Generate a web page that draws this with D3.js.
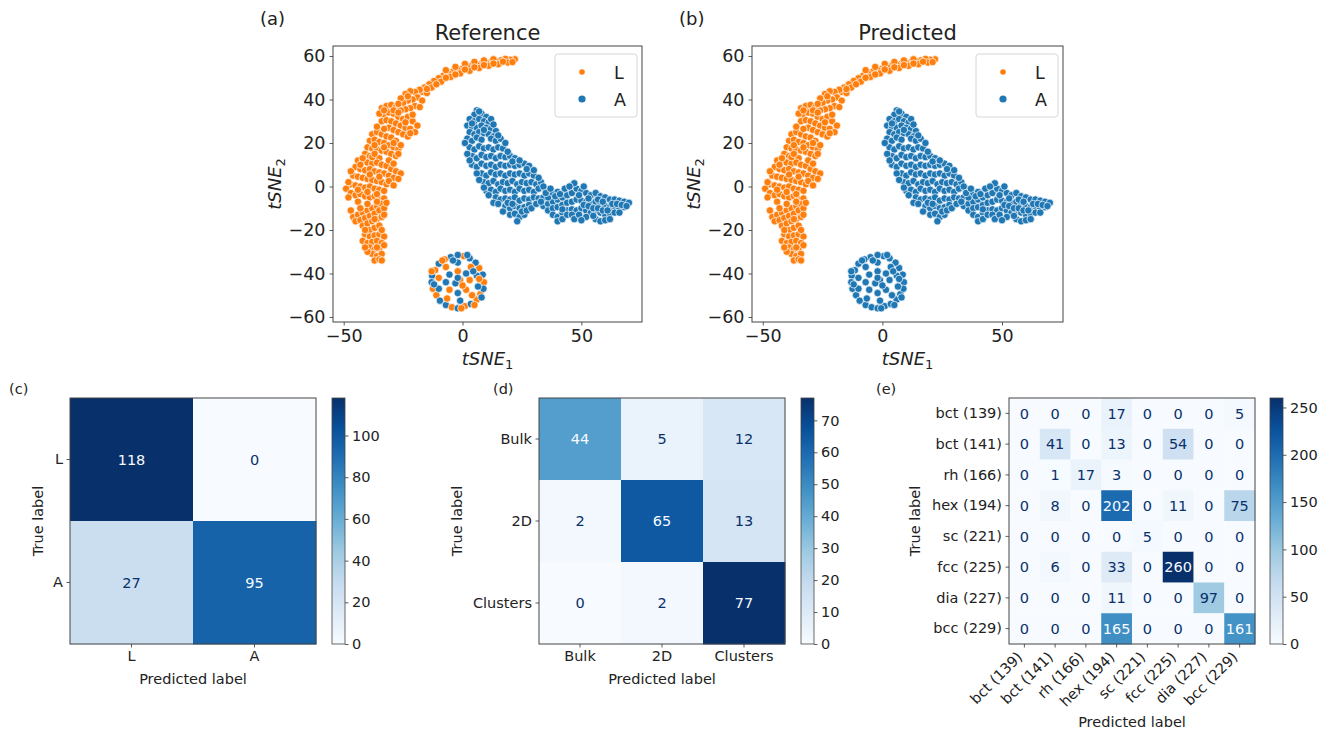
<!DOCTYPE html>
<html>
<head>
<meta charset="utf-8">
<script src="https://cdn.jsdelivr.net/npm/d3@7"></script>
<style>
body { margin: 0; background: #fff; }
svg { font-family: "DejaVu Sans", sans-serif; }
</style>
</head>
<body>
<svg id="fig" width="1323" height="731"></svg>
<script>
// ---- t-SNE embedding (data units) ----
// liquid-like points, orange arc
var lArc = [
  [22,58.5],[20,58.3],[18,58.7],[16,58],[14,57.6],[12,57.2],[10,56.8],[8,56.5],[6,56],[4,55.6],
  [2,55],[0,54.3],[-2,53.6],[-4,52.8],[-6,52],[-8,51],[-10,49.8],[-12,48.5],[-14,47],[-16,45.5],
  [19,57],[15,56.2],[11,55.5],[7,54.5],[3,53.2],[-1,52],[-5,50.4],[-9,48.2],[-13,45.5],[-17,43.5],
  [13,58.5],[9,58],[5,57.3],[1,56.4],[-3,55],[-7,53.5],
  [-18,44.5],[-20,43.5],[-22,43.8],[-24,42.5],[-19,41],[-21,40],[-23,39.5],[-25,38.5],[-17,39.5],
  [-15,43],[-26,40.5],[-20,37],[-22,36],[-24,35.5],[-18,36.5],
  [-34,36],[-32,37],[-30,37.5],[-28,36.5],[-26,35],[-33,33],[-31,34],[-29,33.5],[-27,32],[-25,31],
  [-23,32],[-21,30],[-34,30],[-32,30.5],[-30,30],[-28,29],[-26,28],[-24,27],[-22,26.5],[-20,25],
  [-31,27],[-29,26],[-27,25],[-25,24],[-23,23],[-35,33.5],[-21,33],
  [-38,24],[-36,25],[-34,24],[-32,23],[-30,22.5],[-28,21],[-39,21],[-37,21.5],[-35,20.5],[-33,20],
  [-31,19],[-29,18],[-27,17],[-40,18],[-38,17.5],[-36,17],[-34,16.5],[-32,16],[-30,15],[-28,14],
  [-41,15],[-39,14],[-26,19],[-35,13],
  [-44,12],[-42,11.5],[-40,11],[-38,10.5],[-36,11],[-34,10],[-32,9.5],[-30,8],[-28,7],[-26,6],
  [-45,9],[-43,8],[-41,7.5],[-39,8],[-37,7],[-35,6.5],[-33,6],[-31,5],[-29,4],[-27,3.5],
  [-46,5],[-44,4.5],[-42,4],[-40,3.5],[-38,3],[-36,2.5],[-34,2],[-32,1],[-47,1],[-45,0.5],
  [-43,0],[-41,-0.5],[-39,0],[-37,-1],[-35,-1.5],[-33,-2],[-49,-1],[-47,-3],[-45,-4],[-43,-3.5],
  [-41,-4.5],[-39,-5],[-37,-4.5],[-35,-6],[-33,-5.5],[-48,2],[-42,13],[-38,13.5],
  [-46,-14],[-44,-13],[-42,-12],[-40,-11],[-38,-10],[-36,-9],[-34,-8],[-45,-16],[-43,-15.5],[-41,-14.5],
  [-39,-13.5],[-37,-12.5],[-35,-11],[-33,-10],[-42,-18],[-40,-17],[-38,-16],[-36,-15],[-34,-14],
  [-39,-20],[-37,-19],[-35,-18],
  [-41,-22],[-39,-23],[-37,-22.5],[-35,-22],[-33,-23],[-42,-25],[-40,-26],[-38,-25.5],[-36,-25],
  [-34,-26],[-39,-28],[-37,-29],[-35,-28.5],[-33,-27],[-38,-31],[-36,-32],[-34,-31],[-37,-34],
  [-35,-33.5],[-40,-30],
  [21,57.2],[17,57.4],[13,56.5],[9,55.8],[5,54.8],[1,53.8],[-3,51.5],[-7,50],[-11,47],[-15,44.8],
  [-23,41.5],[-27,38],[-29,35],[-33,35],[-27,34],[-24,29.5],[-19,28],[-22,24.5],[-36,27.5],[-33,26.5],
  [-37,19],[-33,18],[-29,20],[-27,15],[-31,12],[-29,10.5],[-37,15],[-43,10],[-47,7],[-39,5.5],
  [-35,4.5],[-31,2.5],[-29,0.5],[-44,-1.5],[-40,-2.5],[-36,-3.5],[-48,-5],[-44,-7],[-40,-8],[-36,-7],
  [-32,-7.5],[-47,-11],[-43,-10],[-37,-15],[-33,-13],[-41,-20],[-34,-20],[-36,-28],[-41,-28],[-34,-34]
];
// amorphous-like points, blue band
var aMain = [
  [6,35],[5,33],[8,33.5],[10,32],[3,31],[5,30],[7,31],[9,30],[11,29.5],[12,31],[2,28],[4,27.5],
  [6,27],[8,28],[10,27],[12,26.5],[14,25.5],[3,25],[5,24],[7,25],[9,24.5],[11,24],[13,23],
  [2,22],[4,21],[6,22.5],[8,21.5],[12,22],[14,21],[16,22],[3,18],[5,17],[7,18.5],[9,17.5],[11,18],
  [13,17],[15,18],[17,17.5],[4,14],[6,13],[8,14.5],[10,13.5],[12,14],[14,13],[16,14],[18,13.5],
  [20,14],[22,13],[4,10],[6,9],[8,10.5],[10,9.5],[12,10],[14,9],[16,10],[18,9.5],[20,10],[22,9.5],
  [24,10],[26,10.5],[28,9.5],
  [8,6],[10,5],[12,6.5],[14,5.5],[16,6],[18,5],[20,6],[22,5.5],[24,6],[26,5],[28,6],[30,5],
  [9,2],[11,1.5],[13,2.5],[15,1],[17,2],[19,1.5],[21,2.5],[23,1],[25,2],[27,1.5],[29,2],[31,1],[33,2],
  [10,-2],[12,-1.5],[14,-2.5],[16,-1],[18,-2],[20,-1.5],[22,-2.5],[24,-1],[26,-2],[28,-1.5],[30,-2.5],[32,-1],
  [14,-5],[16,-6],[18,-5.5],[20,-6],[22,-5],[24,-6.5],[26,-5.5],[28,-6],[30,-5],[32,-5.5],[34,-5],
  [18,-9],[20,-10],[22,-9],[24,-10],[26,-9.5],[28,-8.5],[20,-13],[22,-12.5],[24,-14],[26,-13],[23,-16],
  [34,-9],[36,-8],[38,-7],[40,-6],[42,-5],[44,-4],[46,-3],[48,-1],[47,1.5],[50,-2],[52,-3],[54,-4],
  [56,-3],[58,-4.5],[60,-5],[62,-6],[64,-6],[66,-6.5],[68,-7],[70,-7.5],
  [36,-11],[38,-10],[40,-9.5],[42,-8.5],[44,-7.5],[46,-7],[48,-6],[50,-6.5],[52,-7],[54,-7.5],
  [56,-7],[58,-8],[60,-9],[62,-9.5],[64,-9],[66,-10],[68,-9.5],
  [38,-13],[40,-14],[42,-12],[44,-11],[46,-10.5],[48,-11],[50,-10],[52,-11],[54,-12],[56,-11],
  [58,-12],[60,-13],[62,-12.5],[64,-12],
  [40,-16],[42,-15],[52,-14],[56,-15],[58,-16],[60,-15.5],[36,-5],[38,-3],[40,-2.5],[43,-1],[45,0],[35,-1],
  [7,34.5],[4,29],[13,28.5],[9,26],[15,23.5],[18,20],[19,16],[1,20],[2,15],[3,12],[21,11.5],[24,12],
  [27,8],[30,7.5],[32,4],[34,0],[6,6],[7,3],[9,-0.5],[11,-4],[13,-7.5],[15,-8],[17,-11.5],[19,-7.5],
  [21,-8],[25,-11.5],[27,-11],[29,-10],[31,-8],[33,-7],[35,-3],[37,-1],[39,-4.5],[41,-3.5],[42,-10.5],
  [44,-13],[46,-13],[47,-15],[49,-13],[50,-15.5],[51,-8.5],[53,-9],[55,-10],[55,-13.5],[57,-10],
  [59,-11],[61,-11],[63,-8],[65,-8],[67,-8.5],[69,-9],[66,-12],[62,-15],[53,-5.5],[49,-4],[51,0],
  [57,-6],[59,-7]
];
// small round cluster near (−2, −44)
var ringPts = [
  [9,-44],[8.5,-40.5],[7,-37.5],[5.5,-35],[3,-33],[0.5,-32],[-2,-31.5],[-5,-32.5],[-7.5,-33.5],
  [-10,-35.5],[-11.5,-38.5],[-12.8,-41],[-13,-44],[-12.5,-47],[-11,-50],[-9.5,-52.5],[-7,-54.5],
  [-4.5,-55.5],[-2,-56],[1,-55],[3.5,-54],[6,-52],[7.5,-49.5],[8.8,-47],
  [6,-41],[3.5,-37],[-2,-35],[-7,-37],[-10,-42],[-10,-47],[-6.5,-51.5],[-1,-52.5],[4,-50],[6.5,-46],
  [3,-43],[1.5,-40],[-2,-39],[-5.5,-40.5],[-7,-44],[-5.5,-47.5],[-2,-49],[1.5,-47.5],
  [-1,-43],[-3,-44.5],[0,-45.5],[-2,-42],
  [2,-31.5],[-8.5,-34],[-12,-45],[-13,-39],[8,-51],[5,-54.5],[-0.5,-56],[-4,-34],[4.5,-39],[7,-42.5]
];
var ringTrue = "LALAALAALALAALLAALALALLA" + "ALALLALALA" + "LALAALAL" + "LALA" + "ALALALLAAL";
var ringPred = "AAAAAAAAAAAAAAAAAAAAAAAA" + "AAAAAAAAAA" + "AAAAAAAA" + "AAAA" + "AAAAAAAAAA";

var tsneX = [-54.5, 75.5];
var tsneY = [-62.3, 64.6];
var tsneXTicks = [-50, 0, 50];
var tsneYTicks = [-60, -40, -20, 0, 20, 40, 60];

// ---- confusion matrices ----
var cmLabelsC = ["L", "A"];
var cmC = [[118, 0], [27, 95]];
var cbTicksC = [0, 20, 40, 60, 80, 100];

var cmLabelsD = ["Bulk", "2D", "Clusters"];
var cmD = [[44, 5, 12], [2, 65, 13], [0, 2, 77]];
var cbTicksD = [0, 10, 20, 30, 40, 50, 60, 70];

var cmLabelsE = ["bct (139)", "bct (141)", "rh (166)", "hex (194)", "sc (221)", "fcc (225)", "dia (227)", "bcc (229)"];
var cmE = [
  [0, 0, 0, 17, 0, 0, 0, 5],
  [0, 41, 0, 13, 0, 54, 0, 0],
  [0, 1, 17, 3, 0, 0, 0, 0],
  [0, 8, 0, 202, 0, 11, 0, 75],
  [0, 0, 0, 0, 5, 0, 0, 0],
  [0, 6, 0, 33, 0, 260, 0, 0],
  [0, 0, 0, 11, 0, 0, 97, 0],
  [0, 0, 0, 165, 0, 0, 0, 161]
];
var cbTicksE = [0, 50, 100, 150, 200, 250];

var svg = d3.select("#fig");
var colL = "#ff7f0e", colA = "#1f77b4";
var bluesStops = ["#f7fbff", "#deebf7", "#c6dbef", "#9ecae1", "#6baed6", "#4292c6", "#2171b5", "#08519c", "#08306b"];
var blues = d3.scaleLinear()
  .domain(bluesStops.map(function(c, i){ return i / 8; }))
  .range(bluesStops)
  .interpolate(d3.interpolateRgb);
var minus = function(v){ return String(v).replace("-", "\u2212"); };

var styleAxis = function(g, size){
  g.select(".domain").remove();
  g.selectAll(".tick line").attr("stroke", "#333").attr("stroke-width", 0.8);
  g.selectAll(".tick text").attr("fill", "#222").attr("font-size", size)
    .attr("font-family", "DejaVu Sans, sans-serif");
  g.attr("font-family", null).attr("font-size", null);
}

//one t-SNE scatter panel
var scatterPanel = function(cfg){
  var x = d3.scaleLinear().domain(tsneX).range([cfg.left, cfg.right]);
  var y = d3.scaleLinear().domain(tsneY).range([cfg.bottom, cfg.top]);
  var pts = [];
  lArc.forEach(function(p){ pts.push({x: p[0], y: p[1], lab: "L"}); });
  aMain.forEach(function(p){ pts.push({x: p[0], y: p[1], lab: "A"}); });
  ringPts.forEach(function(p, i){ pts.push({x: p[0], y: p[1], lab: cfg.ring[i]}); });

  var g = svg.append("g");
  g.selectAll("circle").data(pts).enter().append("circle")
    .attr("cx", function(d){ return x(d.x); })
    .attr("cy", function(d){ return y(d.y); })
    .attr("r", 3.7)
    .attr("fill", function(d){ return d.lab == "L" ? colL : colA; })
    .attr("stroke", "#fff")
    .attr("stroke-width", 0.7);

  g.append("rect")
    .attr("x", cfg.left).attr("y", cfg.top)
    .attr("width", cfg.right - cfg.left).attr("height", cfg.bottom - cfg.top)
    .attr("fill", "none").attr("stroke", "#444").attr("stroke-width", 1);

  var ax = g.append("g").attr("transform", "translate(0," + cfg.bottom + ")")
    .call(d3.axisBottom(x).tickValues(tsneXTicks).tickSize(3.5).tickPadding(4).tickFormat(minus));
  styleAxis(ax, "17.5px");
  var ay = g.append("g").attr("transform", "translate(" + cfg.left + ",0)")
    .call(d3.axisLeft(y).tickValues(tsneYTicks).tickSize(3.5).tickPadding(4).tickFormat(minus));
  styleAxis(ay, "17.5px");

  var cx = (cfg.left + cfg.right) / 2;
  g.append("text").attr("x", cx).attr("y", 40).attr("text-anchor", "middle")
    .attr("font-size", "21px").attr("fill", "#222").text(cfg.title);
  g.append("text").attr("x", cfg.left - 73).attr("y", 25)
    .attr("font-size", "18px").attr("fill", "#222").text(cfg.tag);

  var xl = g.append("text").attr("x", cx).attr("y", 365).attr("text-anchor", "middle")
    .attr("font-size", "18px").attr("font-style", "italic").attr("fill", "#222");
  xl.append("tspan").text("tSNE");
  xl.append("tspan").attr("font-size", "13px").attr("dy", "4").attr("font-style", "normal").text("1");

  var yc = (cfg.top + cfg.bottom) / 2;
  var yl = g.append("text").attr("transform", "translate(" + (cfg.left - 52) + "," + yc + ") rotate(-90)")
    .attr("text-anchor", "middle")
    .attr("font-size", "18px").attr("font-style", "italic").attr("fill", "#222");
  yl.append("tspan").text("tSNE");
  yl.append("tspan").attr("font-size", "13px").attr("dy", "4").attr("font-style", "normal").text("2");

  // legend
  var lx = cfg.right - 87, ly = cfg.top + 8;
  g.append("rect").attr("x", lx).attr("y", ly).attr("width", 82).attr("height", 63)
    .attr("rx", 3).attr("fill", "#fff").attr("fill-opacity", 0.8)
    .attr("stroke", "#d6d6d6").attr("stroke-width", 1);
  var items = [{lab: "L", c: colL, r: 2.8}, {lab: "A", c: colA, r: 3.6}];
  var lg = g.selectAll(".leg").data(items).enter().append("g")
    .attr("transform", function(d, i){ return "translate(" + lx + "," + (ly + 18 + i * 27) + ")"; });
  lg.append("circle").attr("cx", 27).attr("cy", 0).attr("r", function(d){ return d.r; })
    .attr("fill", function(d){ return d.c; });
  lg.append("text").attr("x", 59).attr("y", 6.5).attr("font-size", "17.5px").attr("fill", "#222")
    .text(function(d){ return d.lab; });
}

//one confusion matrix with its colorbar
var cmPanel = function(cfg){
  var labels = cfg.labels;
  var band = d3.scaleBand().domain(labels).range([0, cfg.size]);
  var vmax = d3.max(cfg.m, function(r){ return d3.max(r); });
  var thresh = vmax / 2;
  var cells = [];
  cfg.m.forEach(function(row, i){
    row.forEach(function(v, j){ cells.push({i: i, j: j, v: v}); });
  });

  var g = svg.append("g").attr("transform", "translate(" + cfg.left + "," + cfg.top + ")");
  g.selectAll("rect.cell").data(cells).enter().append("rect")
    .attr("class", "cell")
    .attr("x", function(d){ return band(labels[d.j]); })
    .attr("y", function(d){ return band(labels[d.i]); })
    .attr("width", band.bandwidth() + 0.4).attr("height", band.bandwidth() + 0.4)
    .attr("fill", function(d){ return blues(d.v / vmax); });
  g.selectAll("text.val").data(cells).enter().append("text")
    .attr("class", "val")
    .attr("x", function(d){ return band(labels[d.j]) + band.bandwidth() / 2; })
    .attr("y", function(d){ return band(labels[d.i]) + band.bandwidth() / 2; })
    .attr("dy", "0.36em").attr("text-anchor", "middle").attr("font-size", "14.5px")
    .attr("fill", function(d){ return d.v < thresh ? "#08306b" : "#f7fbff"; })
    .text(function(d){ return d.v; });
  g.append("rect").attr("width", cfg.size).attr("height", cfg.size)
    .attr("fill", "none").attr("stroke", "#444").attr("stroke-width", 1);

  var ay = g.append("g").call(d3.axisLeft(band).tickSize(3.5).tickPadding(3.5));
  styleAxis(ay, "14.5px");
  var ax = g.append("g").attr("transform", "translate(0," + cfg.size + ")")
    .call(d3.axisBottom(band).tickSize(3.5).tickPadding(3.5));
  styleAxis(ax, "14.5px");
  if (cfg.rotate) {
    ax.selectAll(".tick text")
      .attr("y", 0).attr("dy", null)
      .attr("text-anchor", "end")
      .attr("transform", "translate(-1,14) rotate(-45)");
  }

  // colorbar
  var cb = g.append("g").attr("transform", "translate(" + cfg.cbx + ",0)");
  var gid = "grad" + cfg.tag.replace(/\W/g, "");
  var grad = svg.append("defs").append("linearGradient").attr("id", gid)
    .attr("x1", 0).attr("y1", 1).attr("x2", 0).attr("y2", 0);
  grad.selectAll("stop").data(bluesStops).enter().append("stop")
    .attr("offset", function(d, i){ return i / 8; })
    .attr("stop-color", function(d){ return d; });
  cb.append("rect").attr("width", 13).attr("height", cfg.size).attr("fill", "url(#" + gid + ")")
    .attr("stroke", "#444").attr("stroke-width", 0.8);
  var cbScale = d3.scaleLinear().domain([0, vmax]).range([cfg.size, 0]);
  var cba = cb.append("g").attr("transform", "translate(13,0)")
    .call(d3.axisRight(cbScale).tickValues(cfg.cbTicks).tickSize(3.5).tickPadding(3.5));
  styleAxis(cba, "14.5px");

  g.append("text").attr("x", cfg.size / 2).attr("y", cfg.xly).attr("text-anchor", "middle")
    .attr("font-size", "14.5px").attr("fill", "#222").text("Predicted label");
  g.append("text").attr("transform", "translate(" + cfg.ylx + "," + cfg.size / 2 + ") rotate(-90)")
    .attr("text-anchor", "middle").attr("dy", "0.36em")
    .attr("font-size", "14.5px").attr("fill", "#222").text("True label");
  g.append("text").attr("x", cfg.tagx).attr("y", -4)
    .attr("font-size", "14.5px").attr("fill", "#222").text(cfg.tag);
}

scatterPanel({left: 333, right: 642, top: 46, bottom: 322, title: "Reference", tag: "(a)", ring: ringTrue});
scatterPanel({left: 752, right: 1063, top: 46, bottom: 322, title: "Predicted", tag: "(b)", ring: ringPred});

cmPanel({left: 70, top: 398, size: 246, labels: cmLabelsC, m: cmC, cbTicks: cbTicksC,
         cbx: 262, xly: 286, ylx: -32, tagx: -61, tag: "(c)"});
cmPanel({left: 539, top: 398, size: 246, labels: cmLabelsD, m: cmD, cbTicks: cbTicksD,
         cbx: 262, xly: 286, ylx: -82, tagx: -46, tag: "(d)"});
cmPanel({left: 1009, top: 398, size: 246, labels: cmLabelsE, m: cmE, cbTicks: cbTicksE,
         cbx: 261, xly: 329, ylx: -94, tagx: -133, tag: "(e)", rotate: true});
</script>
</body>
</html>
